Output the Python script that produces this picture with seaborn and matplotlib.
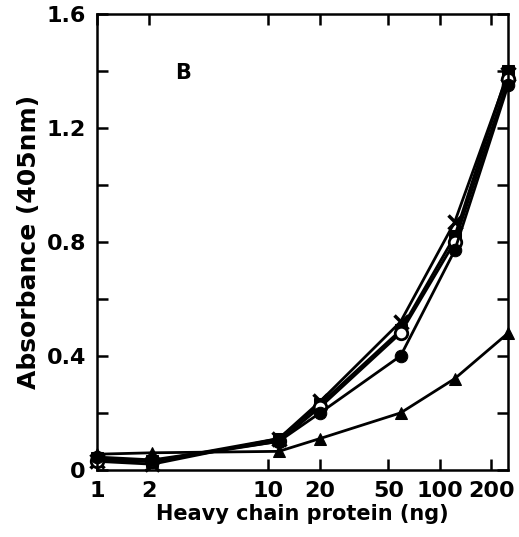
import numpy as np
import pandas as pd
import matplotlib
matplotlib.use("Agg")
import matplotlib.pyplot as plt
import seaborn as sns
from matplotlib import ticker

# heavy chain protein (ng)
protein_ng = [1, 2.1, 11.5, 20, 59, 122, 250]

# absorbance at 405 nm, one list per curve
abs_cross = [0.03, 0.02, 0.11, 0.24, 0.52, 0.87, 1.39]
abs_square = [0.04, 0.03, 0.11, 0.23, 0.49, 0.82, 1.40]
abs_open_circle = [0.03, 0.03, 0.10, 0.22, 0.48, 0.80, 1.37]
abs_filled_circle = [0.045, 0.035, 0.10, 0.20, 0.40, 0.77, 1.35]
abs_triangle = [0.055, 0.06, 0.065, 0.11, 0.20, 0.32, 0.48]

x_ticks = [1, 2, 10, 20, 50, 100, 200]
y_ticks = [0, 0.4, 0.8, 1.2, 1.6]


def make_frame():
    rows = []
    for name, vals in [("cross", abs_cross), ("square", abs_square),
                       ("open", abs_open_circle), ("filled", abs_filled_circle),
                       ("triangle", abs_triangle)]:
        for x, y in zip(protein_ng, vals):
            rows.append({"series": name, "ng": x, "absorbance": y})
    return pd.DataFrame(rows)


sns.set_style("ticks")
plt.rcParams["font.family"] = ["DejaVu Sans"]
plt.rcParams["font.weight"] = "bold"
plt.rcParams["text.color"] = "black"
plt.rcParams["axes.labelcolor"] = "black"
plt.rcParams["xtick.color"] = "black"
plt.rcParams["ytick.color"] = "black"
plt.rcParams["axes.edgecolor"] = "black"

data = make_frame()

fig = plt.figure(figsize=(5.19, 5.37), dpi=100)
ax = fig.add_axes([0.187, 0.125, 0.792, 0.849])

styles = {
    "cross": dict(marker="x", markersize=10, markeredgewidth=2.5, markerfacecolor="black"),
    "square": dict(marker="s", markersize=8, markerfacecolor="black"),
    "open": dict(marker="o", markersize=9, markerfacecolor="white", markeredgewidth=2),
    "filled": dict(marker="o", markersize=9, markerfacecolor="black"),
    "triangle": dict(marker="^", markersize=8, markerfacecolor="black"),
}

for name, kw in styles.items():
    sub = data[data["series"] == name]
    sns.lineplot(data=sub, x="ng", y="absorbance", ax=ax, color="black",
                 linewidth=2, markeredgecolor="black", clip_on=False,
                 estimator=None, sort=True, **kw)

ax.set_xscale("log")
ax.set_xlim(1, 250)
ax.set_ylim(0, 1.6)

ax.xaxis.set_major_locator(ticker.FixedLocator(x_ticks))
ax.xaxis.set_major_formatter(ticker.FixedFormatter([str(t) for t in x_ticks]))
ax.xaxis.set_minor_locator(ticker.NullLocator())
ax.yaxis.set_major_locator(ticker.FixedLocator(y_ticks))
ax.yaxis.set_major_formatter(ticker.FixedFormatter(["0", "0.4", "0.8", "1.2", "1.6"]))
ax.yaxis.set_minor_locator(ticker.MultipleLocator(0.2))

ax.tick_params(which="both", direction="in", length=8, width=1.8,
               top=True, right=True, labelsize=16, pad=8)
for lab in ax.get_xticklabels() + ax.get_yticklabels():
    lab.set_fontweight("bold")

for sp in ax.spines.values():
    sp.set_linewidth(1.8)
    sp.set_visible(True)

ax.set_xlabel("Heavy chain protein (ng)", fontsize=15, fontweight="bold", labelpad=2)
ax.set_ylabel("Absorbance (405nm)", fontsize=18, fontweight="bold", labelpad=4)
ax.text(0.21, 0.87, "B", transform=ax.transAxes, fontsize=15,
        fontweight="bold", ha="center", va="center")

fig.savefig("out.png", dpi=100)
